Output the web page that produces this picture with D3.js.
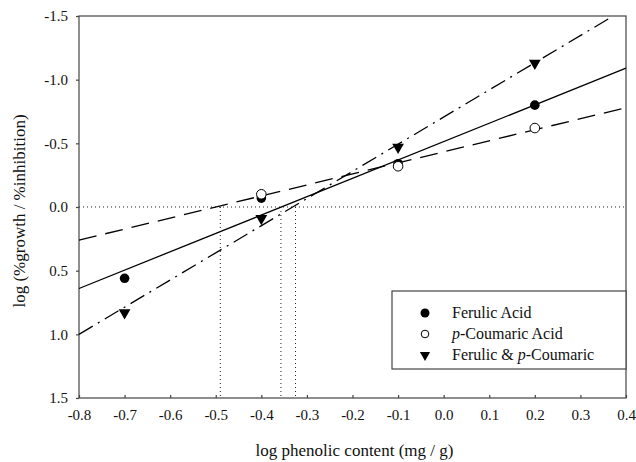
<!DOCTYPE html>
<html>
<head>
<meta charset="utf-8">
<script src="https://cdn.jsdelivr.net/npm/d3@7"></script>
<style>
  body { margin: 0; background: #fff; }
</style>
</head>
<body>
<div id="chart"></div>
<script>
// region Data
const xTicks = [-0.8, -0.7, -0.6, -0.5, -0.4, -0.3, -0.2, -0.1, 0.0, 0.1, 0.2, 0.3, 0.4];
const yTicks = [-1.5, -1.0, -0.5, 0.0, 0.5, 1.0, 1.5];

const ferulicX = [-0.7, -0.4, -0.1, 0.2];
const ferulicY = [0.56, -0.07, -0.34, -0.80];
const coumaricX = [-0.4, -0.1, 0.2];
const coumaricY = [-0.10, -0.32, -0.62];
const bothX = [-0.7, -0.4, -0.1, 0.2];
const bothY = [0.83, 0.09, -0.47, -1.13];

// fitted lines, end points
const ferulicFitX = [-0.8, 0.4];
const ferulicFitY = [0.64, -1.09];
const coumaricFitX = [-0.8, 0.4];
const coumaricFitY = [0.26, -0.78];
const bothFitX = [-0.8, 0.372];
const bothFitY = [1.0, -1.5];

// x where each fit crosses zero
const crossX = [-0.49, -0.357, -0.325];

const legendLabels = ['Ferulic Acid', 'p-Coumaric Acid', 'Ferulic & p-Coumaric'];
// endregion

const serif = '"Liberation Serif", "Times New Roman", serif';

let w = 636, h = 462,
    mLeft = 79, mTop = 16, mRight = 626, mBottom = 398;

let svg = d3.select('#chart').append('svg')
    .attr('width', w).attr('height', h);

const x = d3.scaleLinear().domain([-0.8, 0.4]).range([mLeft, mRight]);
const y = d3.scaleLinear().domain([-1.5, 1.5]).range([mTop, mBottom]);

const axisColor = '#444';

// zero lines (dotted)
svg.append('line')
    .attr('x1', x(-0.8)).attr('x2', x(0.4))
    .attr('y1', y(0)).attr('y2', y(0))
    .attr('stroke', '#222').attr('stroke-width', 1)
    .attr('stroke-dasharray', '1,3');
svg.selectAll('.cross')
    .data(crossX).enter()
    .append('line')
    .attr('class', 'cross')
    .attr('x1', d => x(d)).attr('x2', d => x(d))
    .attr('y1', y(0)).attr('y2', y(1.5))
    .attr('stroke', '#222').attr('stroke-width', 1)
    .attr('stroke-dasharray', '1,3');

// frame
svg.append('rect')
    .attr('x', mLeft).attr('y', mTop)
    .attr('width', mRight - mLeft).attr('height', mBottom - mTop)
    .attr('fill', 'none').attr('stroke', axisColor).attr('stroke-width', 1.2);

// axes
let yAxis = svg.append('g')
    .attr('transform', `translate(${mLeft},0)`)
    .call(d3.axisLeft(y).tickValues(yTicks).tickSize(3).tickPadding(8).tickFormat(d3.format('.1f')));
let xAxis = svg.append('g')
    .attr('transform', `translate(0,${mBottom})`)
    .call(d3.axisBottom(x).tickValues(xTicks).tickSize(-3).tickPadding(11).tickFormat(d3.format('.1f')));

[xAxis, yAxis].forEach(a => {
    a.attr('font-family', serif).attr('font-size', 15);
    a.select('.domain').remove();
    a.selectAll('line').attr('stroke', axisColor).attr('stroke-width', 1.2);
    a.selectAll('text')
        .attr('fill', '#111')
        .text(function () { return d3.select(this).text().replace('\u2212', '-'); });
});

// axis titles
svg.append('text')
    .attr('x', (mLeft + mRight) / 2 + 2).attr('y', 456)
    .attr('text-anchor', 'middle')
    .attr('font-family', serif).attr('font-size', 17).attr('fill', '#111')
    .text('log phenolic content (mg / g)');
svg.append('text')
    .attr('transform', `translate(25,${(mTop + mBottom) / 2 + 4}) rotate(-90)`)
    .attr('text-anchor', 'middle')
    .attr('font-family', serif).attr('font-size', 17).attr('fill', '#111')
    .text('log (%growth / %inhibition)');

// fit lines
let fitLine = (xs, ys, dash) => {
    svg.append('line')
        .attr('x1', x(xs[0])).attr('x2', x(xs[1]))
        .attr('y1', y(ys[0])).attr('y2', y(ys[1]))
        .attr('stroke', '#000').attr('stroke-width', 1.3)
        .attr('stroke-dasharray', dash);
}
fitLine(ferulicFitX, ferulicFitY, null);
fitLine(coumaricFitX, coumaricFitY, '18,9');
fitLine(bothFitX, bothFitY, '16,6,2,6');

// points
let zip = (xs, ys) => xs.map((v, i) => ({x: v, y: ys[i]}));
const tri = d3.symbol().type(d3.symbolTriangle).size(60);

svg.selectAll('.ferulic')
    .data(zip(ferulicX, ferulicY)).enter()
    .append('circle')
    .attr('class', 'ferulic')
    .attr('cx', d => x(d.x)).attr('cy', d => y(d.y))
    .attr('r', 4.8).attr('fill', '#000');

svg.selectAll('.both')
    .data(zip(bothX, bothY)).enter()
    .append('path')
    .attr('class', 'both')
    .attr('d', tri)
    .attr('transform', d => `translate(${x(d.x)},${y(d.y)}) rotate(180)`)
    .attr('fill', '#000');

svg.selectAll('.coumaric')
    .data(zip(coumaricX, coumaricY)).enter()
    .append('circle')
    .attr('class', 'coumaric')
    .attr('cx', d => x(d.x)).attr('cy', d => y(d.y))
    .attr('r', 4.8).attr('fill', '#fff')
    .attr('stroke', '#000').attr('stroke-width', 1);

// legend
let lg = svg.append('g');
lg.append('rect')
    .attr('x', 392).attr('y', 291)
    .attr('width', mRight - 392).attr('height', 78)
    .attr('fill', '#fff').attr('stroke', axisColor).attr('stroke-width', 1.2);

legendLabels.forEach((lab, i) => {
    let ly = 313 + i * 21;
    if (i === 0) {
        lg.append('circle').attr('cx', 425).attr('cy', ly).attr('r', 4.5).attr('fill', '#000');
    } else if (i === 1) {
        lg.append('circle').attr('cx', 425).attr('cy', ly).attr('r', 3.8)
            .attr('fill', '#fff').attr('stroke', '#000').attr('stroke-width', 1);
    } else {
        lg.append('path').attr('d', d3.symbol().type(d3.symbolTriangle).size(45))
            .attr('transform', `translate(425,${ly}) rotate(180)`).attr('fill', '#000');
    }
    let t = lg.append('text')
        .attr('x', 452).attr('y', ly + 5)
        .attr('font-family', serif).attr('font-size', 16).attr('fill', '#111');
    let parts = lab.split('p-');
    parts.forEach((p, j) => {
        if (j > 0) {
            t.append('tspan').attr('font-style', 'italic').text('p');
            t.append('tspan').text('-');
        }
        t.append('tspan').text(p);
    });
});
</script>
</body>
</html>
